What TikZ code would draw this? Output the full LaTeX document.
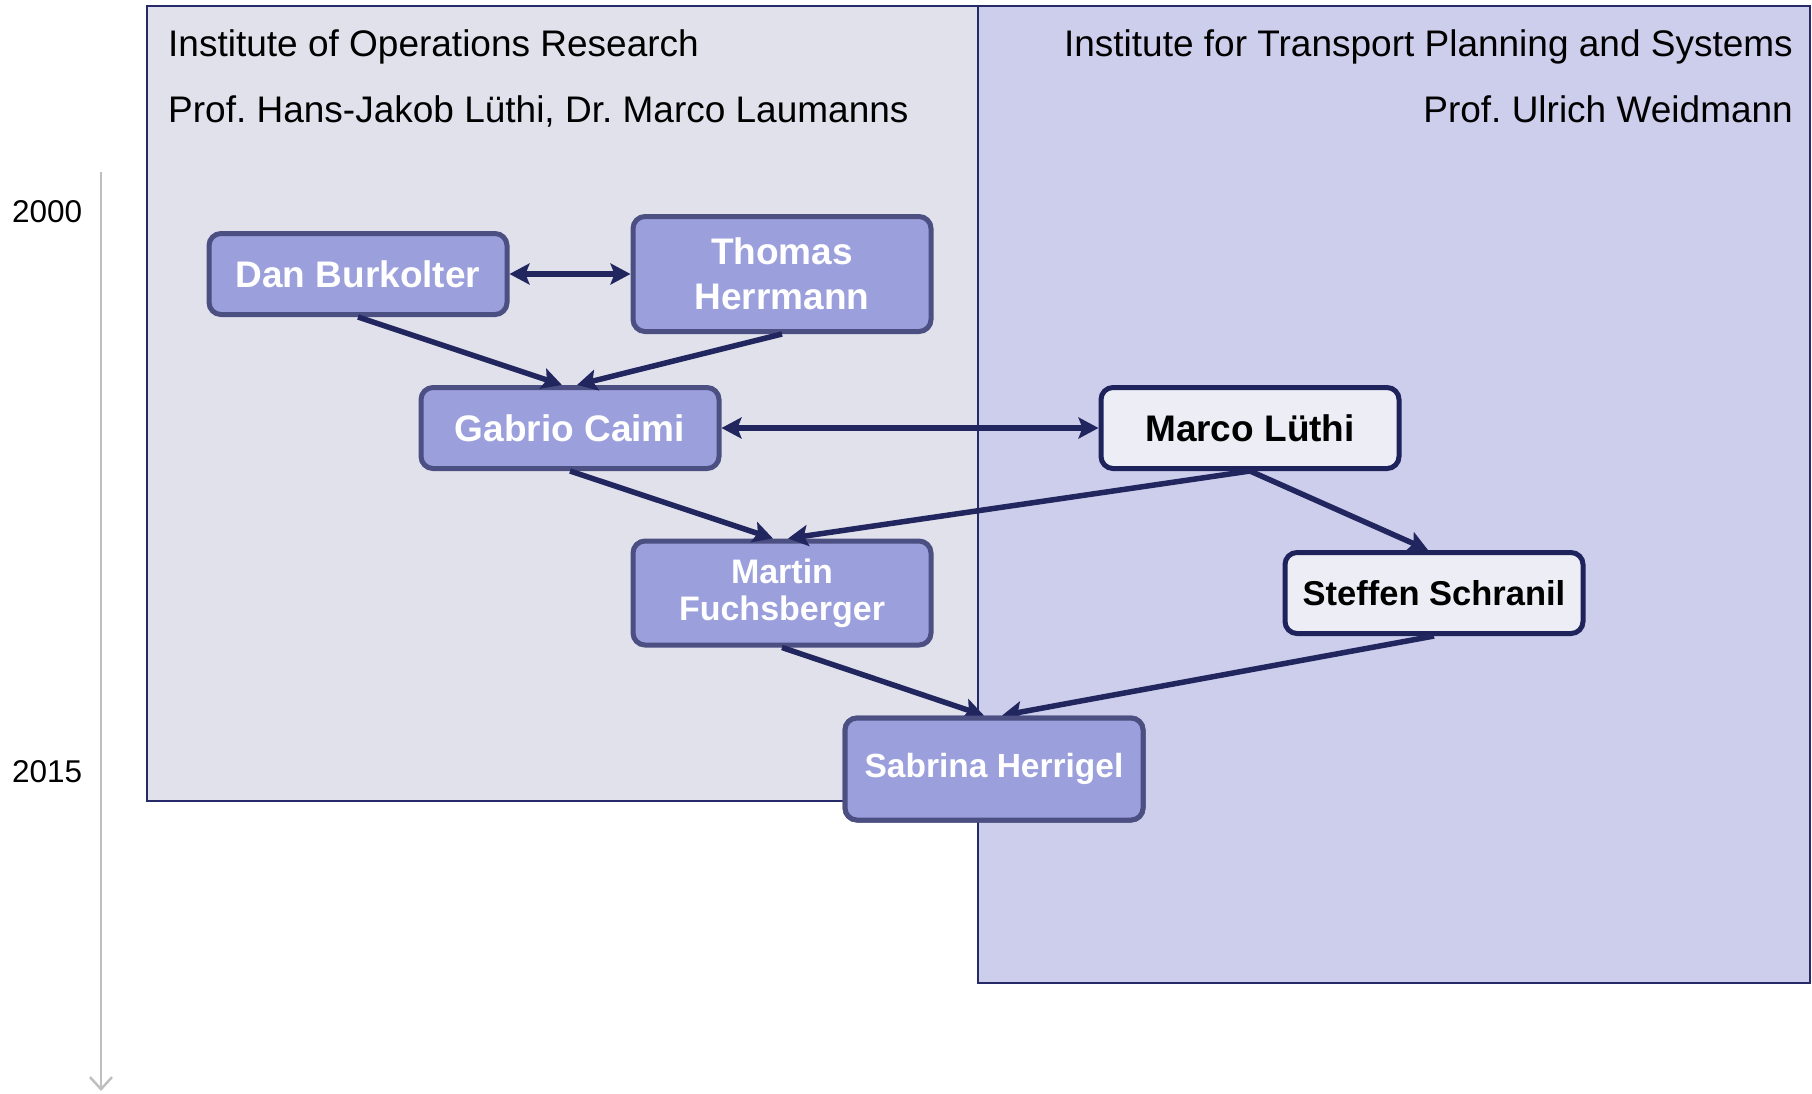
\documentclass[tikz,border=0pt]{standalone}
\usepackage{fontspec}
\setmainfont{Liberation Sans}
\usetikzlibrary{arrows.meta}
\frenchspacing

\definecolor{iorfill}{HTML}{E1E1EC}
\definecolor{ivtfill}{HTML}{CDCEEB}
\definecolor{frameline}{HTML}{262A68}
\definecolor{nodefill}{HTML}{9B9FDC}
\definecolor{nodeline}{HTML}{4C4F82}
\definecolor{litefill}{HTML}{EDEEF5}
\definecolor{liteline}{HTML}{1F235C}
\definecolor{linkcol}{HTML}{22265E}
\definecolor{axiscol}{HTML}{BFBFBF}

\tikzset{
  person/.style={draw=nodeline, fill=nodefill, line width=5pt, rounded corners=12pt,
    minimum width=298pt, minimum height=81pt, inner sep=0pt, text=white, align=center},
  guest/.style={person, draw=liteline, fill=litefill, text=black},
  region/.style={draw=frameline, line width=1.5pt},
  head/.style={inner sep=0pt, font=\fontsize{37}{44}\selectfont},
  year/.style={inner sep=0pt, anchor=base west, font=\fontsize{31.5}{38}\selectfont},
  tip/.tip={Stealth[length=20pt,width=21pt,inset=4pt]},
  link/.style={draw=linkcol, line width=5.5pt, -tip},
  twoway/.style={draw=linkcol, line width=5.5pt, tip-tip},
}

\begin{document}
\begin{tikzpicture}[x=1pt,y=-1pt]
\useasboundingbox (0,0) rectangle (1812,1093);

% institute regions
\path[region, fill=iorfill] (147,6) rectangle (978,801);
\path[region, fill=ivtfill] (978,6) rectangle (1810,983);

% institute headings
\node[head, anchor=base west] (iorname) at (168,56) {Institute of Operations Research};
\node[head, anchor=base west] (iorprof) at (168,122) {Prof. Hans-Jakob Lüthi, Dr. Marco Laumanns};
\node[head, anchor=base east] (ivtname) at (1793,56) {Institute for Transport Planning and Systems};
\node[head, anchor=base east] (ivtprof) at (1793,122) {Prof. Ulrich Weidmann};

% time axis
\coordinate (tstart) at (101,172);
\coordinate (tend) at (101,1091);
\draw[axiscol, line width=2.5pt, -{Straight Barb[length=12pt,width=22pt]}] (tstart) -- (tend);
\node[year] (y2000) at (12,222) {2000};
\node[year] (y2015) at (12,782) {2015};

% people
\node[person, font=\fontsize{37}{44}\selectfont\bfseries] (dan) at (358,274) {Dan Burkolter};
\node[person, minimum height=115pt, font=\fontsize{37}{45}\selectfont\bfseries] (thomas) at (782,274) {Thomas\\Herrmann};
\node[person, font=\fontsize{37}{44}\selectfont\bfseries] (gabrio) at (570,428) {Gabrio Caimi};
\node[guest, font=\fontsize{37}{44}\selectfont\bfseries] (marco) at (1250,428) {Marco Lüthi};
\node[person, minimum height=104pt, font=\fontsize{34}{37}\selectfont\bfseries] (martin) at (782,593) {Martin\\Fuchsberger};
\node[guest, font=\fontsize{34.5}{40}\selectfont\bfseries] (steffen) at (1434,593) {Steffen Schranil};
\node[person, minimum height=102pt, font=\fontsize{33.5}{40}\selectfont\bfseries] (sabrina) at (994,769) {Sabrina Herrigel};

% relations
\draw[twoway] (dan.east) -- (thomas.west);
\draw[twoway] (gabrio.east) -- (marco.west);
\draw[link] (dan.south) -- ([xshift=-8pt]gabrio.north);
\draw[link] (thomas.south) -- ([xshift=7pt]gabrio.north);
\draw[link] (gabrio.south) -- ([xshift=-9pt]martin.north);
\draw[link] (marco.south) -- ([xshift=6pt]martin.north);
\draw[link] (marco.south) -- ([xshift=-6pt]steffen.north);
\draw[link] (martin.south) -- ([xshift=-10pt]sabrina.north);
\draw[link] (steffen.south) -- ([xshift=8pt]sabrina.north);

% redraw the last node above the arrows
\node[person, minimum height=102pt, font=\fontsize{33.5}{40}\selectfont\bfseries] at (sabrina.center) {Sabrina Herrigel};
\end{tikzpicture}
\end{document}
